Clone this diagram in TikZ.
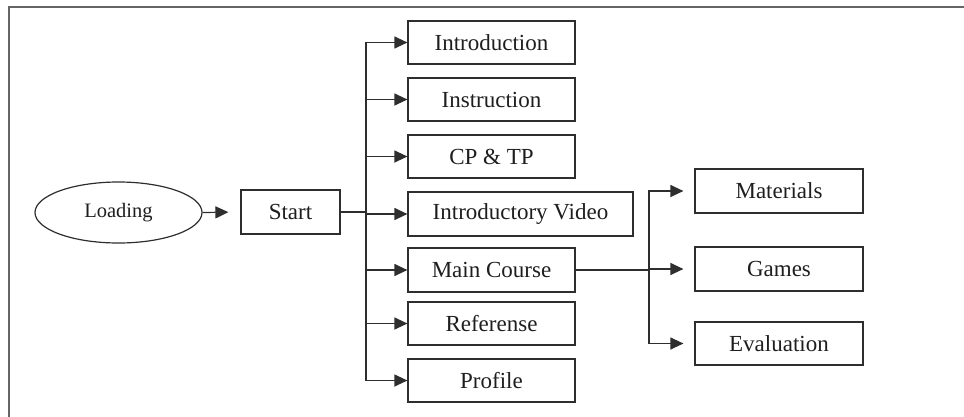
\documentclass[tikz,border=0pt]{standalone}
\usepackage{fontspec}
\setmainfont{Liberation Serif}
\usetikzlibrary{arrows.meta,shapes.geometric}
\definecolor{ln}{HTML}{2E2E2E}
\definecolor{tx}{HTML}{1E1E1E}
\begin{document}
\begin{tikzpicture}[x=1pt,y=-1pt,
  box/.style={draw=ln,line width=1.2pt,rectangle,inner sep=0pt,minimum height=43pt,text=tx,font=\fontsize{23}{26}\selectfont},
  oval/.style={draw=ln,line width=1.2pt,ellipse,inner sep=0pt,minimum width=167pt,minimum height=61pt,text=tx,font=\fontsize{20.5}{23}\selectfont},
  arr/.style={draw=ln,line width=1.2pt,-{Triangle[length=13pt,width=12pt]}},
  frame/.style={draw=gray!80!black,line width=1.4pt}]
\useasboundingbox (0,0) rectangle (964,416);
\draw[frame] (9,420) -- (9,7) -- (968,7);
\node[oval] (load) at (118.5,212.5) {Loading};
\node[box,minimum width=99pt,minimum height=44pt] (start) at (290.5,212) {Start};
\node[box,minimum width=167pt] (intro) at (491.5,42.5) {Introduction};
\node[box,minimum width=167pt] (instr) at (491.5,99.5) {Instruction};
\node[box,minimum width=167pt] (cptp) at (491.5,156.5) {CP \& TP};
\node[box,minimum width=225pt,minimum height=44pt] (video) at (520.5,214) {Introductory Video};
\node[box,minimum width=167pt,minimum height=44pt] (main) at (491.5,270) {Main Course};
\node[box,minimum width=167pt] (ref) at (491.5,323.5) {Referense};
\node[box,minimum width=167pt] (prof) at (491.5,380.5) {Profile};
\node[box,minimum width=168pt,minimum height=44pt] (mat) at (779,191) {Materials};
\node[box,minimum width=168pt,minimum height=44pt] (games) at (779,269) {Games};
\node[box,minimum width=168pt] (eval) at (779,343.5) {Evaluation};
\coordinate (tr) at (366,212);
\coordinate (tr2) at (649,270);
\draw[arr,shorten >=12pt] (load.east) -- (start.west);
\draw[draw=ln,line width=1.2pt] (start.east) -- (tr);
\foreach \b in {intro,instr,cptp,video,main,ref,prof}
  \draw[arr] (tr) |- (\b.west);
\draw[draw=ln,line width=1.2pt] (main.east) -- (tr2);
\foreach \b in {mat,games,eval}
  \draw[arr,shorten >=11pt] (tr2) |- (\b.west);
\end{tikzpicture}
\end{document}
